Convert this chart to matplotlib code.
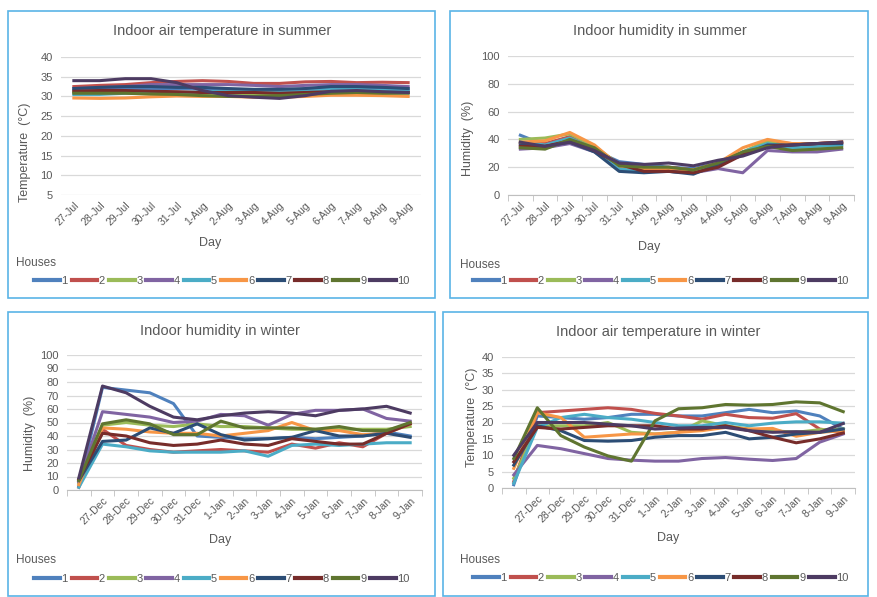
import matplotlib
matplotlib.use("Agg")
import matplotlib.pyplot as plt
from matplotlib.patches import Rectangle

plt.rcParams['font.family'] = ['Liberation Sans', 'DejaVu Sans']

houses = ['1', '2', '3', '4', '5', '6', '7', '8', '9', '10']
colors = ['#4F81BD', '#C0504D', '#9BBB59', '#8064A2', '#4BACC6',
          '#F79646', '#2C4D75', '#772C2A', '#5F7530', '#4D3B62']

summer_days = ['27-Jul', '28-Jul', '29-Jul', '30-Jul', '31-Jul', '1-Aug', '2-Aug',
               '3-Aug', '4-Aug', '5-Aug', '6-Aug', '7-Aug', '8-Aug', '9-Aug']
winter_days = ['', '27-Dec', '28-Dec', '29-Dec', '30-Dec', '31-Dec', '1-Jan', '2-Jan',
               '3-Jan', '4-Jan', '5-Jan', '6-Jan', '7-Jan', '8-Jan', '9-Jan']

# summer air temperature, one list per house
summer_temp = [
    [31.5, 31.8, 32, 32, 32, 32, 31.8, 31.5, 31.5, 31.8, 32, 32, 32, 31.8],
    [32.5, 32.8, 33, 33.5, 33.8, 34, 33.8, 33.3, 33.3, 33.7, 33.8, 33.5, 33.6, 33.5],
    [31, 31, 31, 31, 30.8, 30.5, 30.5, 30.5, 30.5, 30.8, 31, 31.2, 31, 31],
    [32, 32.2, 32.5, 33, 33, 33, 33, 32.8, 32.5, 32.8, 33, 33, 32.8, 32.5],
    [30.5, 30.5, 30.8, 31, 31, 31.2, 31.3, 31.5, 31.5, 31.5, 31.8, 31.8, 31.5, 31.5],
    [29.6, 29.5, 29.6, 29.9, 30.1, 30, 30, 29.8, 29.8, 30, 30.3, 30.3, 30.2, 30],
    [32, 32.3, 32.5, 32.5, 32.3, 32.3, 32, 31.8, 31.8, 32, 32.5, 32.5, 32.3, 32],
    [31.3, 31.5, 31.5, 31.3, 31.2, 31, 31, 31, 30.8, 31, 31.2, 31.2, 31, 31],
    [30.8, 30.8, 30.8, 30.6, 30.5, 30.2, 30, 30, 30.2, 30.5, 30.8, 31, 30.8, 30.8],
    [34, 34, 34.5, 34.5, 33.5, 31.5, 30.2, 29.8, 29.5, 30.2, 31.3, 31.5, 31.2, 31],
]

summer_hum = [
    [43, 36, 40, 32, 24, 22, 20, 19, 23, 30, 36, 35, 36, 36],
    [37, 37, 42, 34, 22, 19, 20, 18, 21, 30, 38, 37, 37, 38],
    [40, 41, 44, 35, 22, 20, 19, 18, 22, 31, 39, 33, 33, 34],
    [33, 34, 37, 31, 19, 17, 17, 16, 19, 16, 32, 31, 31, 33],
    [38, 36, 41, 33, 19, 17, 17, 16, 21, 31, 37, 34, 35, 36],
    [38, 39, 45, 36, 21, 19, 19, 18, 23, 34, 40, 37, 37, 38],
    [36, 35, 38, 31, 17, 16, 17, 15, 22, 29, 36, 36, 37, 37],
    [35, 35, 39, 32, 22, 17, 17, 16, 20, 29, 35, 36, 37, 38],
    [34, 33, 40, 34, 21, 20, 20, 18, 23, 31, 35, 32, 33, 34],
    [38, 35, 38, 32, 23, 22, 23, 21, 25, 28, 34, 36, 37, 38],
]

winter_hum = [
    [3, 76, 74, 72, 64, 40, 39, 38, 38, 39, 38, 39, 40, 43, 40],
    [2, 45, 33, 30, 28, 29, 30, 29, 28, 34, 31, 35, 32, 42, 50],
    [5, 48, 50, 48, 47, 49, 47, 47, 46, 45, 45, 45, 45, 45, 47],
    [6, 58, 56, 54, 50, 51, 56, 55, 48, 56, 59, 59, 60, 53, 51],
    [2, 34, 32, 29, 28, 28, 28, 29, 25, 33, 34, 33, 34, 35, 35],
    [4, 46, 45, 43, 42, 42, 40, 42, 44, 50, 44, 44, 41, 42, 49],
    [7, 36, 37, 46, 42, 49, 41, 37, 38, 39, 44, 40, 40, 42, 39],
    [8, 42, 40, 35, 33, 34, 37, 34, 33, 38, 36, 34, 34, 42, 49],
    [7, 49, 52, 49, 41, 41, 51, 46, 46, 46, 45, 47, 44, 44, 50],
    [9, 77, 72, 62, 54, 52, 55, 57, 58, 57, 55, 59, 60, 62, 57],
]

winter_temp = [
    [1, 22, 21.5, 21, 21.5, 22.5, 22.5, 22, 22, 23, 24, 23, 23.5, 22, 18],
    [2, 23, 23.5, 24, 24.5, 24, 22.8, 22, 21, 22.5, 21.5, 21.3, 22.7, 18, 17],
    [3, 19, 19, 19, 20, 17, 16.5, 17, 20.5, 19, 18, 17.5, 17, 17.8, 18],
    [4, 13, 12, 10.5, 9, 8.5, 8.2, 8.2, 9, 9.3, 8.8, 8.4, 9, 14, 16.5],
    [1.5, 18.5, 21.5, 22.5, 21.5, 21, 20, 19, 19, 20, 19, 19.8, 20.2, 20.2, 19.8],
    [6, 23, 21.5, 15.5, 16, 16.5, 16.5, 17, 17.5, 18.5, 18, 18.2, 15.8, 17, 17.5],
    [7, 19, 17.5, 14.5, 14.3, 14.5, 15.5, 16, 16, 17, 15, 15.5, 16.5, 17, 18],
    [8, 18.5, 18, 18.5, 19, 19, 19, 18, 18, 19, 17.5, 15.5, 13.8, 15, 16.8],
    [9, 24.5, 16, 12.5, 9.8, 8.2, 20.5, 24.2, 24.5, 25.5, 25.3, 25.5, 26.3, 26, 23.3],
    [10, 20, 20, 20, 19.5, 19, 18, 18.3, 18.5, 18.5, 17.5, 17, 17.2, 17, 19.7],
]

W, H = 877, 597
fig = plt.figure(figsize=(W / 100, H / 100), dpi=100)
grey = '#595959'


def px_axes(x0, y0, x1, y1):
    return fig.add_axes([x0 / W, 1 - y1 / H, (x1 - x0) / W, (y1 - y0) / H])


def ftext(x, y, s, **kw):
    fig.text(x / W, 1 - y / H, s, color=grey, **kw)


def panel(box, plot, title, tpos, ylab, ylpos, xlpos, hpos, legpos,
          days, data, ylim, yticks, ticks_below):
    fig.add_artist(Rectangle((box[0] / W, 1 - box[3] / H), (box[2] - box[0]) / W,
                             (box[3] - box[1]) / H, transform=fig.transFigure,
                             fill=False, edgecolor='#5AB4E6', linewidth=1.2))
    ax = px_axes(*plot)
    x = list(range(len(days)))
    lines = []
    for vals, c in zip(data, colors):
        ln, = ax.plot(x, vals, color=c, lw=2.2, solid_joinstyle='round')
        lines.append(ln)
    ax.set_xlim(-0.5, len(days) - 0.5)
    ax.set_ylim(*ylim)
    ax.set_yticks(yticks)
    ax.set_xticks(x)
    ax.set_xticklabels(days, rotation=45, ha='right', rotation_mode='anchor',
                       fontsize=7.5, color=grey)
    ax.tick_params(axis='y', length=0, labelsize=8, labelcolor=grey, pad=6)
    ax.tick_params(axis='x', length=0, pad=4)
    ax.grid(axis='y', color='#D9D9D9', lw=0.9)
    ax.set_axisbelow(True)
    for s in ['top', 'right', 'left']:
        ax.spines[s].set_visible(False)
    if ticks_below:
        ax.spines['bottom'].set_color('#BFBFBF')
        ax.set_xticks([i - 0.5 for i in range(len(days) + 1)], minor=True)
        ax.tick_params(axis='x', which='minor', length=4, color='#BFBFBF')
    else:
        ax.spines['bottom'].set_visible(False)
    ftext(*tpos, title, fontsize=10.5, ha='center', va='center')
    ftext(*ylpos, ylab, fontsize=9, ha='center', va='center', rotation=90)
    ftext(*xlpos, 'Day', fontsize=9, ha='center', va='center')
    ftext(*hpos, 'Houses', fontsize=8.5, ha='left', va='center')
    fig.legend(lines, houses, loc='center', ncol=10,
               bbox_to_anchor=(legpos[0] / W, 1 - legpos[1] / H),
               frameon=False, fontsize=8, handlelength=2.3, handletextpad=0.15,
               columnspacing=0.35, borderpad=0, labelcolor=grey,
               handler_map=None)
    for lh in fig.legends[-1].get_lines():
        lh.set_linewidth(3)
    return ax


panel((8, 11, 435, 298), (61, 57, 421, 195), 'Indoor air temperature in summer',
      (222, 31), 'Temperature  (°C)', (25, 152), (210, 243), (16, 263), (222, 281),
      summer_days, summer_temp, (5, 40), range(5, 41, 5), False)

panel((450, 11, 868, 298), (508, 56, 854, 195), 'Indoor humidity in summer',
      (660, 31), 'Humidity  (%)', (468, 138), (649, 247), (460, 265), (661, 281),
      summer_days, summer_hum, (0, 100), range(0, 101, 20), True)

panel((8, 312, 435, 596), (67, 355, 422, 490), 'Indoor humidity in winter',
      (220, 331), 'Humidity  (%)', (30, 433), (220, 540), (16, 560), (222, 579),
      winter_days, winter_hum, (0, 100), range(0, 101, 10), True)

panel((443, 312, 868, 596), (502, 357, 855, 488), 'Indoor air temperature in winter',
      (658, 332), 'Temperature  (°C)', (472, 417), (668, 538), (460, 560), (661, 578),
      winter_days, winter_temp, (0, 40), range(0, 41, 5), True)

fig.savefig('out.png', dpi=100)
